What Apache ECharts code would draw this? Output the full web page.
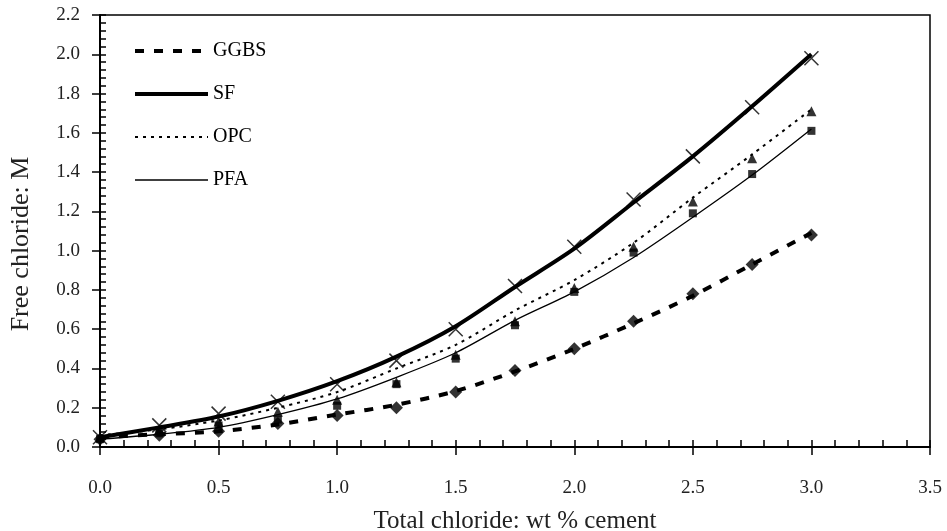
<!DOCTYPE html>
<html>
<head>
<meta charset="utf-8">
<script src="https://cdn.jsdelivr.net/npm/echarts@6/dist/echarts.min.js"></script>
<style>
html, body { margin: 0; padding: 0; background: #fff; }
#chart { width: 947px; height: 531px; }
</style>
</head>
<body>
<div id="chart"></div>
<script>
// total chloride, wt % cement
const xValues = [0, 0.25, 0.5, 0.75, 1.0, 1.25, 1.5, 1.75, 2.0, 2.25, 2.5, 2.75, 3.0];

// measured free chloride (markers)
const ggbsPoints = [0.04, 0.06, 0.08, 0.12, 0.16, 0.20, 0.28, 0.39, 0.50, 0.64, 0.78, 0.93, 1.08];
const sfPoints   = [0.05, 0.11, 0.17, 0.23, 0.32, 0.44, 0.60, 0.82, 1.02, 1.26, 1.48, 1.73, 1.98];
const opcPoints  = [0.05, 0.09, 0.13, 0.18, 0.24, 0.33, 0.47, 0.64, 0.81, 1.02, 1.25, 1.47, 1.71];
const pfaPoints  = [0.04, 0.07, 0.11, 0.14, 0.21, 0.32, 0.45, 0.62, 0.79, 0.99, 1.19, 1.39, 1.61];

// fitted curves
const ggbsCurve = [0.05, 0.065, 0.08, 0.115, 0.165, 0.215, 0.285, 0.385, 0.50, 0.63, 0.77, 0.93, 1.09];
const sfCurve   = [0.05, 0.10, 0.155, 0.235, 0.335, 0.46, 0.615, 0.815, 1.01, 1.245, 1.48, 1.735, 2.0];
const opcCurve  = [0.06, 0.09, 0.135, 0.20, 0.28, 0.40, 0.52, 0.695, 0.85, 1.04, 1.27, 1.49, 1.72];
const pfaCurve  = [0.04, 0.065, 0.10, 0.165, 0.245, 0.355, 0.48, 0.645, 0.79, 0.965, 1.17, 1.385, 1.62];

const pairs = (ys) => xValues.map((x, i) => [x, ys[i]]);

const font = "Liberation Serif";
const crossPath = "path://M0,0L10,10M10,0L0,10";

const myChart = echarts.init(document.getElementById("chart"));

const xCommon = {
    type: "value",
    min: 0,
    max: 3.5,
    interval: 0.5,
    splitLine: { show: false },
};
const yCommon = {
    type: "value",
    min: 0,
    max: 2.2,
    interval: 0.2,
    splitLine: { show: false },
};

const option = {
    backgroundColor: "#fff",
    animation: false,
    grid: {
        left: 100,
        right: 17,
        top: 15,
        bottom: 84,
        outerBoundsMode: "none",
        containLabel: false,
        show: true,
        borderColor: "#000",
        borderWidth: 1.5,
    },
    legend: {
        data: ["GGBS", "SF", "OPC", "PFA"],
        orient: "vertical",
        left: 128,
        top: 36,
        itemWidth: 73,
        itemHeight: 14,
        itemGap: 23,
        itemStyle: { opacity: 0 },
        lineStyle: { width: "inherit", type: "inherit" },
        textStyle: { fontFamily: font, fontSize: 20, color: "#000" },
    },
    xAxis: [
        {
            ...xCommon,
            name: "Total chloride: wt % cement",
            nameLocation: "middle",
            nameGap: 62,
            nameTextStyle: { fontFamily: font, fontSize: 25, color: "#222" },
            axisLine: { lineStyle: { color: "#000", width: 2 } },
            axisTick: { inside: false, length: 8, lineStyle: { color: "#000", width: 1.5 } },
            axisLabel: {
                margin: 32,
                fontFamily: font,
                fontSize: 19,
                color: "#222",
                formatter: (v) => v.toFixed(1),
            },
        },
        {
            ...xCommon,
            position: "bottom",
            axisLine: { show: false },
            axisLabel: { show: false },
            axisTick: { inside: true, length: 7, lineStyle: { color: "#000", width: 1.5 } },
            minorTick: { show: true, splitNumber: 5, length: 7, lineStyle: { color: "#000", width: 1.5 } },
        },
    ],
    yAxis: [
        {
            ...yCommon,
            name: "Free chloride: M",
            nameLocation: "middle",
            nameGap: 66,
            nameTextStyle: { fontFamily: font, fontSize: 26, color: "#222", padding: [0, 26, 0, 0] },
            axisLine: { lineStyle: { color: "#000", width: 2 } },
            axisTick: { inside: false, length: 8, lineStyle: { color: "#000", width: 1.5 } },
            axisLabel: {
                margin: 20,
                fontFamily: font,
                fontSize: 19,
                color: "#222",
                formatter: (v) => v.toFixed(1),
            },
        },
        {
            ...yCommon,
            position: "left",
            axisLine: { show: false },
            axisLabel: { show: false },
            axisTick: { inside: true, length: 6, lineStyle: { color: "#000", width: 1.5 } },
            minorTick: { show: true, splitNumber: 5, length: 6, lineStyle: { color: "#000", width: 1.5 } },
        },
    ],
    series: [
        {
            name: "GGBS",
            type: "line",
            data: pairs(ggbsCurve),
            smooth: 0.3,
            symbol: "none",
            itemStyle: { color: "#000" },
            lineStyle: { color: "#000", width: 4, type: [9, 10] },
        },
        {
            name: "SF",
            type: "line",
            data: pairs(sfCurve),
            smooth: 0.3,
            symbol: "none",
            itemStyle: { color: "#000" },
            lineStyle: { color: "#000", width: 4 },
        },
        {
            name: "OPC",
            type: "line",
            data: pairs(opcCurve),
            smooth: 0.3,
            symbol: "none",
            itemStyle: { color: "#000" },
            lineStyle: { color: "#000", width: 2, type: [3, 5] },
        },
        {
            name: "PFA",
            type: "line",
            data: pairs(pfaCurve),
            smooth: 0.3,
            symbol: "none",
            itemStyle: { color: "#000" },
            lineStyle: { color: "#000", width: 1.3 },
        },
        {
            name: "GGBS data",
            type: "scatter",
            data: pairs(ggbsPoints),
            symbol: "diamond",
            symbolSize: 13,
            itemStyle: { color: "#000" },
            z: 5,
        },
        {
            name: "SF data",
            type: "scatter",
            data: pairs(sfPoints),
            symbol: crossPath,
            symbolSize: 14,
            itemStyle: { color: "none", borderColor: "#000", borderWidth: 1.5 },
            z: 5,
        },
        {
            name: "OPC data",
            type: "scatter",
            data: pairs(opcPoints),
            symbol: "triangle",
            symbolSize: 10,
            itemStyle: { color: "#000" },
            z: 5,
        },
        {
            name: "PFA data",
            type: "scatter",
            data: pairs(pfaPoints),
            symbol: "rect",
            symbolSize: 8,
            itemStyle: { color: "#000" },
            z: 5,
        },
    ],
};
myChart.setOption(option);
</script>
</body>
</html>
